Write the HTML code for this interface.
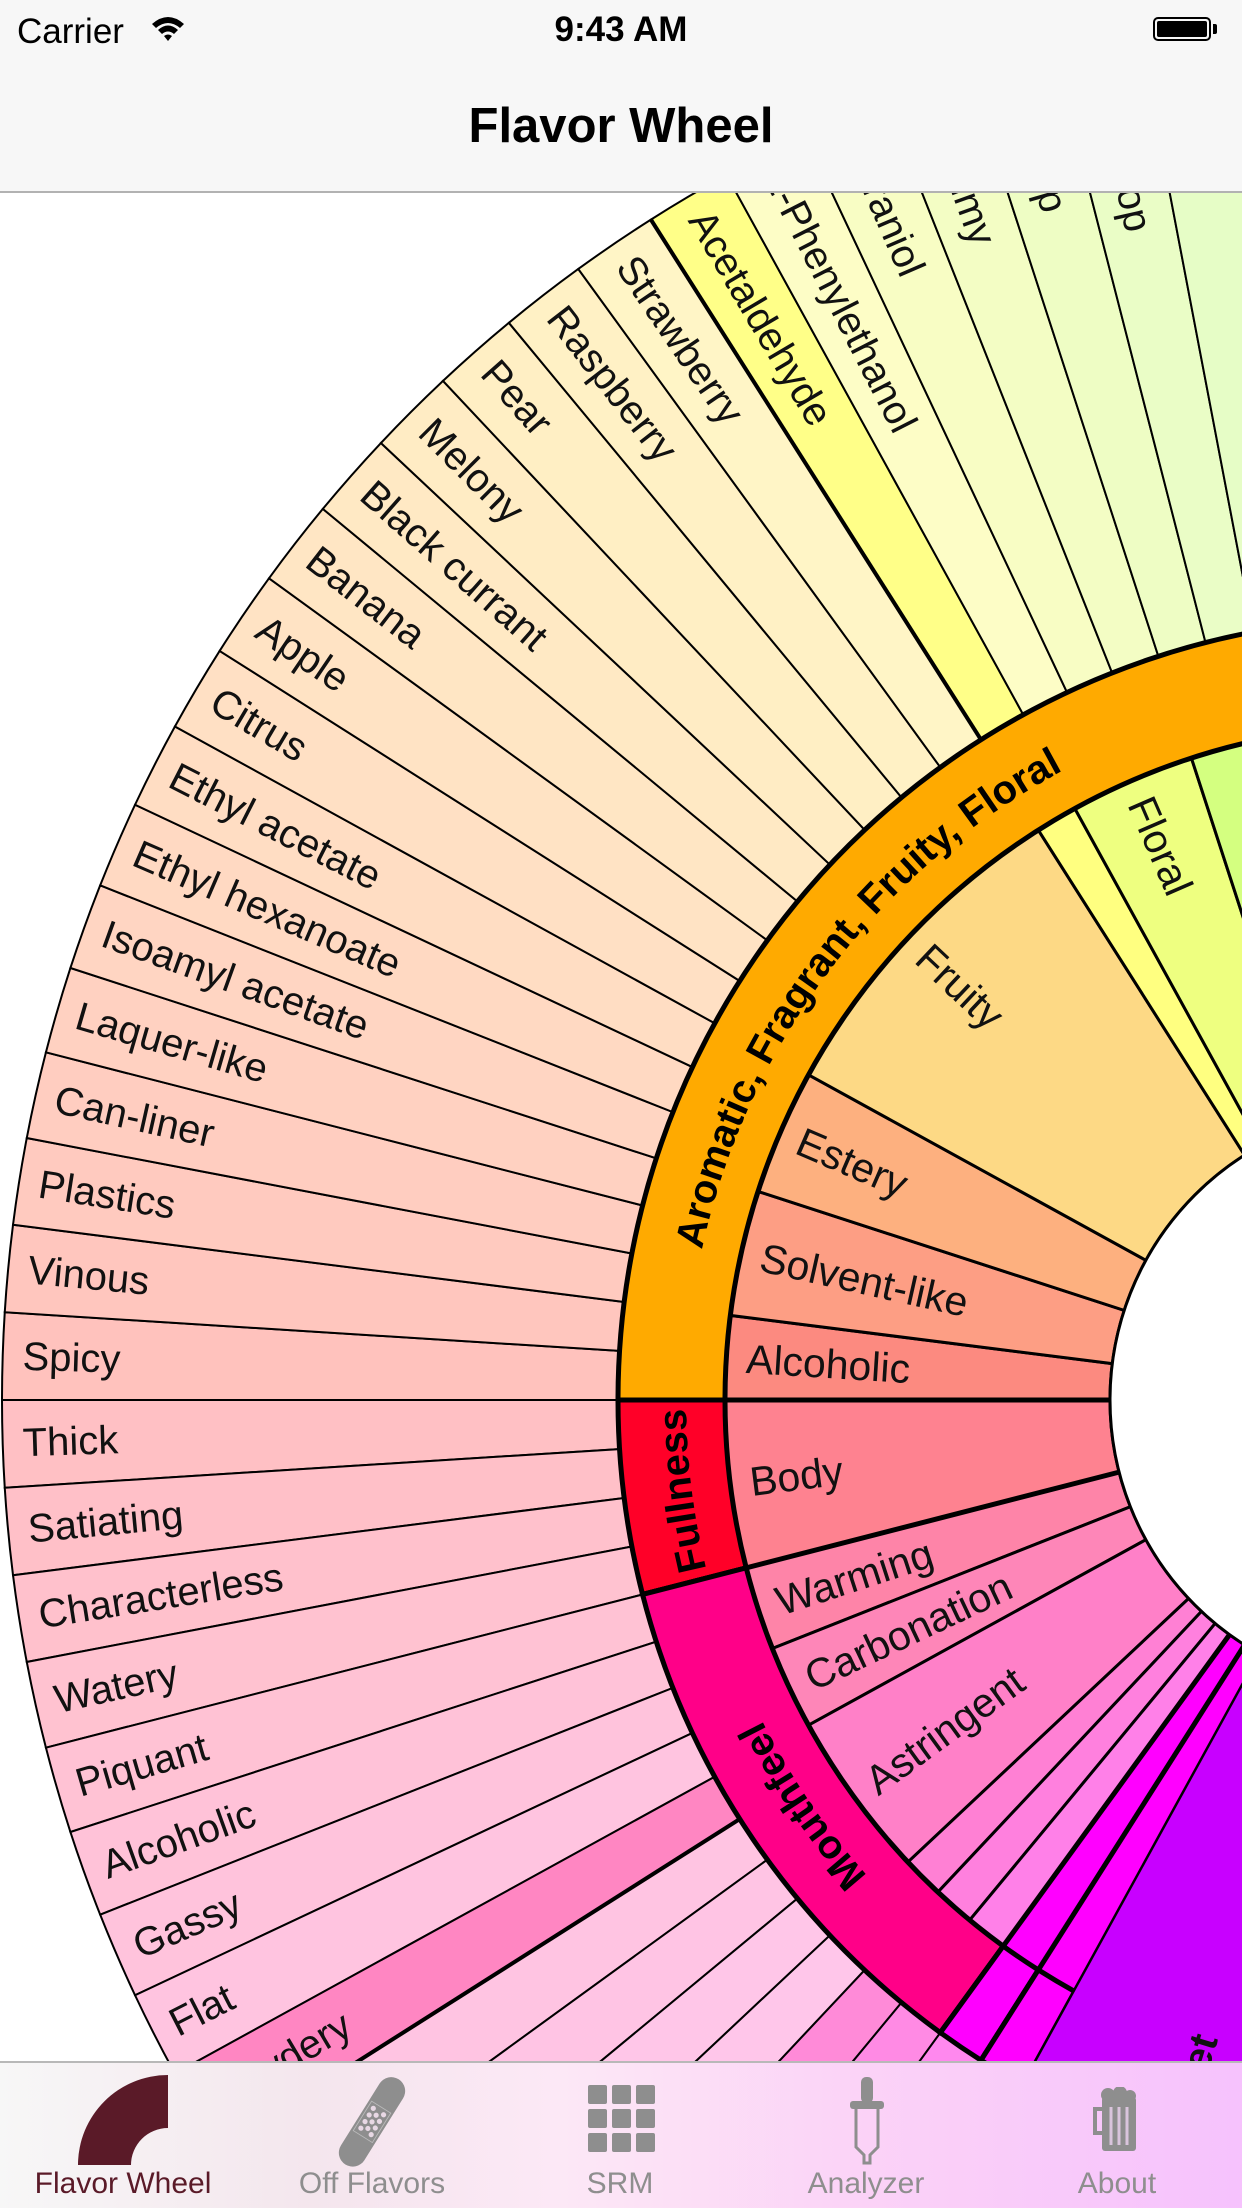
<!DOCTYPE html>
<html><head><meta charset="utf-8">
<style>
html,body{margin:0;padding:0;width:1242px;height:2208px;overflow:hidden;background:#fff;font-family:"Liberation Sans",sans-serif;}
*{box-sizing:border-box;}
#wheel{position:absolute;left:0;top:0;overflow:hidden;}
#nav{position:absolute;left:0;top:0;width:1242px;height:193px;background:#f7f7f7;border-bottom:2px solid #b2b2b2;}
#tab{position:absolute;left:0;top:2061px;width:1242px;height:147px;border-top:2px solid #b8b8b8;overflow:hidden;
 background:linear-gradient(90deg,#f7f7f7 0%,#f4e6ed 25%,#fce8f6 45%,#fbd2f7 70%,#f6c2fd 100%);}
.lbl{position:absolute;top:104px;font-size:30px;color:#8e8e8e;transform:translateX(-50%);white-space:nowrap;}
</style></head><body>
<svg id="wheel" width="1242" height="2208" viewBox="0 0 1242 2208" xmlns="http://www.w3.org/2000/svg"></svg>

<div id="nav">
 <div style="position:absolute;left:17px;top:12px;font-size:35px;color:#000;">Carrier</div>
 <svg style="position:absolute;left:150px;top:14px" width="36" height="30" viewBox="0 0 36 30">
  <path d="M2 10 Q18 -4 34 10 L30 14 Q18 4 6 14Z" fill="#000"/><path d="M8 16 Q18 7 28 16 L24 20 Q18 15 12 20Z" fill="#000"/><path d="M14 22 Q18 19 22 22 L18 27Z" fill="#000"/></svg>
 <div style="position:absolute;left:0;width:1242px;text-align:center;top:10px;font-size:35px;font-weight:bold;">9:43 AM</div>
 <div style="position:absolute;left:1153px;top:17px;width:58px;height:24px;border:2px solid #000;border-radius:5px;padding:2px;"><div style="width:100%;height:100%;background:#000;border-radius:2px"></div></div>
 <div style="position:absolute;left:1213px;top:24px;width:4px;height:10px;background:#000;border-radius:0 2px 2px 0"></div>
 <div style="position:absolute;left:0;width:1242px;text-align:center;top:98px;font-size:49px;font-weight:bold;">Flavor Wheel</div>
</div>

<div id="tab">
 <div style="position:absolute;left:0;top:0;width:248px;height:147px;">
  <svg style="position:absolute;left:76px;top:10px" width="94" height="94" viewBox="0 0 94 94"><path d="M92 2 A90 90 0 0 0 2 92 L55 92 A37 37 0 0 1 92 55 Z" fill="#5a1a28"/></svg>
  <div class="lbl" style="left:123px;color:#5a1a28">Flavor Wheel</div>
 </div>
 <div style="position:absolute;left:248px;top:0;width:248px;height:147px;">
  <svg style="position:absolute;left:72px;top:10px" width="104" height="96" viewBox="0 0 120 110">
   <g transform="rotate(-58 60 56)"><rect x="2" y="40" width="116" height="32" rx="16" fill="#8e8e8e"/><rect x="40" y="43" width="40" height="26" fill="#8e8e8e" stroke="#bbb" stroke-width="1"/>
   <g fill="#e8d8e4"><circle cx="47" cy="49" r="3"/><circle cx="56" cy="49" r="3"/><circle cx="65" cy="49" r="3"/><circle cx="74" cy="49" r="3"/><circle cx="47" cy="63" r="3"/><circle cx="56" cy="63" r="3"/><circle cx="65" cy="63" r="3"/><circle cx="74" cy="63" r="3"/><circle cx="51" cy="56" r="3"/><circle cx="60" cy="56" r="3"/><circle cx="69" cy="56" r="3"/></g></g></svg>
  <div class="lbl" style="left:124px">Off Flavors</div>
 </div>
 <div style="position:absolute;left:496px;top:0;width:248px;height:147px;">
  <svg style="position:absolute;left:92px;top:22px" width="68" height="68" viewBox="0 0 68 68"><g fill="#8e8e8e">
   <rect x="0" y="0" width="19" height="19" rx="2"/><rect x="24" y="0" width="19" height="19" rx="2"/><rect x="48" y="0" width="19" height="19" rx="2"/>
   <rect x="0" y="24" width="19" height="19" rx="2"/><rect x="24" y="24" width="19" height="19" rx="2"/><rect x="48" y="24" width="19" height="19" rx="2"/>
   <rect x="0" y="48" width="19" height="19" rx="2"/><rect x="24" y="48" width="19" height="19" rx="2"/><rect x="48" y="48" width="19" height="19" rx="2"/></g></svg>
  <div class="lbl" style="left:124px">SRM</div>
 </div>
 <div style="position:absolute;left:744px;top:0;width:248px;height:147px;">
  <svg style="position:absolute;left:104px;top:14px" width="40" height="88" viewBox="0 0 40 88">
   <rect x="13" y="0" width="12" height="26" rx="5" fill="#8e8e8e"/><rect x="2" y="24" width="34" height="8" rx="3" fill="#8e8e8e"/>
   <path d="M8 32 L8 70 L16 78 L16 86 L22 86 L22 78 L30 70 L30 32" fill="none" stroke="#8e8e8e" stroke-width="3"/></svg>
  <div class="lbl" style="left:122px">Analyzer</div>
 </div>
 <div style="position:absolute;left:992px;top:0;width:250px;height:147px;">
  <svg style="position:absolute;left:100px;top:24px" width="52" height="66" viewBox="0 0 52 66">
   <circle cx="16" cy="8" r="7" fill="#8e8e8e"/><circle cx="28" cy="6" r="7" fill="#8e8e8e"/><circle cx="38" cy="9" r="6" fill="#8e8e8e"/>
   <rect x="10" y="10" width="34" height="54" rx="3" fill="#8e8e8e"/><path d="M10 22 L3 22 L3 46 L10 46" fill="none" stroke="#8e8e8e" stroke-width="4"/>
   <g stroke="#d9c4dc" stroke-width="3"><line x1="19" y1="20" x2="19" y2="58"/><line x1="27" y1="20" x2="27" y2="58"/><line x1="35" y1="20" x2="35" y2="58"/></g></svg>
  <div class="lbl" style="left:125px">About</div>
 </div>
</div>

<script>
// ---- data ----
const upperLabels = ["Spicy","Vinous","Plastics","Can-liner","Laquer-like","Isoamyl acetate","Ethyl hexanoate","Ethyl acetate","Citrus","Apple","Banana","Black currant","Melony","Pear","Raspberry","Strawberry","Acetaldehyde","2-Phenylethanol","Geraniol","Perfumy","Dry hop","Kettle hop","Grassy","Herbal","Resinous"];
const upperColors = ["#ffc2bd","#ffc6be","#ffcabf","#ffcdc0","#ffd1c1","#ffd5c2","#ffd9c2","#ffddc3","#ffe0c4","#ffe3c4","#ffe6c4","#ffe9c4","#ffecc4","#ffefc4","#fff1c5","#fff5c6","#ffff88","#fdfdc6","#f8fdc4","#f3fdc4","#eefdc4","#eafdc6","#e6fdc6","#e2fdc8","#defdca"];
const lowerLabels = ["Thick","Satiating","Characterless","Watery","Piquant","Alcoholic","Gassy","Flat","Powdery","","","","","","","","","","",""];
const lowerColors = ["#ffc0c4","#ffc0c8","#ffc1cc","#ffc2d0","#ffc2d4","#ffc2d8","#ffc3dc","#ffc4e0","#ff86c2","#ffc4e2","#ffc4e4","#ffc6e8","#ffc6ea","#ff8ad8","#ff8ae4","#ff88ee","#ff00ff","#ff00ff","#c800ff","#c800ff"];
// thick dividers in outer ring (segment units)
const outerThick = [16,-9];
// middle ring groups in segment units (negative = below horizontal)
const midStart = [0,2,5,8,16,17,20,-4,-6,-8,-12,-13,-14,-15,-16,-17,-24];
const midEnd   = [2,5,8,16,17,20,26,0,-4,-6,-8,-12,-13,-14,-15,-16,-17];
const midLabels = ["Alcoholic","Solvent-like","Estery","Fruity","","Floral","","Body","Warming","Carbonation","Astringent","","","","","",""];
const midColors = ["#fc8a80","#fd9e84","#fdb07f","#fdd985","#ffff80","#eeff80","#d4ff80","#fe8290","#fe84a8","#fe86b8","#ff80c8","#ff80d4","#ff80de","#ff80e8","#ff00ff","#ff00ff","#c800ff"];
// category ring
const catStart = [0,-4,-15,-16,-17,-24];
const catEnd   = [26,0,-4,-15,-16,-17];
const catLabels = ["Aromatic, Fragrant, Fruity, Floral","Fullness","Mouthfeel","","","Sweet"];
const catLabelMid = [37,-7.2,-34.2,0,0,0];
const catColors = ["#ffaa00","#ff0028","#ff0088","#ff00ff","#ff00ff","#c800ff"];

// ---- geometry ----
const CX=1400, CY=1400, SEG=3.6;
const R_HOLE=290, R_MID=675, R_CAT=782, R_OUT=1398;
const NS="http://www.w3.org/2000/svg";
const svg=document.getElementById('wheel');
function P(r,t){const a=t*Math.PI/180;return [CX-r*Math.cos(a),CY-r*Math.sin(a)];}
function sector(r1,r2,t1,t2){
  const a=P(r1,t1),b=P(r2,t1),c=P(r2,t2),d=P(r1,t2);const lg=(t2-t1)>180?1:0;
  return `M${a[0]},${a[1]} L${b[0]},${b[1]} A${r2},${r2} 0 ${lg} 1 ${c[0]},${c[1]} L${d[0]},${d[1]} A${r1},${r1} 0 ${lg} 0 ${a[0]},${a[1]} Z`;
}
function mk(tag,attrs,parent){const e=document.createElementNS(NS,tag);for(const k in attrs)e.setAttribute(k,attrs[k]);(parent||svg).appendChild(e);return e;}
function radialText(str,r,t,size,weight,name){
  const p=P(r,t);
  const e=mk('text',{x:p[0],y:p[1],transform:`rotate(${t} ${p[0]} ${p[1]})`,'font-size':size,'font-weight':weight,'dominant-baseline':'central','font-family':'Liberation Sans, sans-serif',fill:'#111'});
  e.textContent=str;
  
  
}
function line(r1,r2,t,w,name){
  const a=P(r1,t),b=P(r2,t);
  const e=mk('line',{x1:a[0],y1:a[1],x2:b[0],y2:b[1],stroke:'#000','stroke-width':w});
  
  
}

// outer ring
upperLabels.forEach((lab,i)=>{
  const t1=i*SEG,t2=(i+1)*SEG;
  const e=mk('path',{d:sector(R_CAT,R_OUT,t1,t2),fill:upperColors[i],stroke:'#000','stroke-width':2});
  
  
});
lowerLabels.forEach((lab,i)=>{
  const t1=-(i+1)*SEG,t2=-i*SEG;
  const e=mk('path',{d:sector(R_CAT,R_OUT,t1,t2),fill:lowerColors[i],stroke:'#000','stroke-width':2});
  
  
});
outerThick.forEach(s=>line(R_CAT,R_OUT,s*SEG,4,'outer-group-divider'));
// middle ring
midStart.forEach((s,i)=>{
  const e=mk('path',{d:sector(R_HOLE,R_MID,s*SEG,midEnd[i]*SEG),fill:midColors[i],stroke:'#000','stroke-width':3});
  
  
});
// category ring
catStart.forEach((s,i)=>{
  const last = (i===catStart.length-1);
  const e=mk('path',{d:sector(last?R_HOLE+2:R_MID,last?R_OUT:R_CAT,s*SEG,catEnd[i]*SEG),fill:catColors[i],stroke:last?'none':'#000','stroke-width':5});
  
  
  line(R_HOLE,last?R_OUT:R_CAT,s*SEG,5,'category-divider');
});
// circles
const c1=mk('circle',{cx:CX,cy:CY,r:R_HOLE,fill:'#fff',stroke:'#000','stroke-width':3});


// labels
upperLabels.forEach((lab,i)=>{ if(lab) radialText(lab,R_OUT-20,(i+0.5)*SEG,40,'normal','outer-label'); });
lowerLabels.forEach((lab,i)=>{ if(lab) radialText(lab,R_OUT-20,-(i+0.5)*SEG,40,'normal','outer-label'); });
midLabels.forEach((lab,i)=>{ if(lab) radialText(lab,R_MID-20,(midStart[i]+midEnd[i])/2*SEG,41,'normal','middle-label'); });
const defs=mk('defs',{});
catLabels.forEach((lab,i)=>{
  if(!lab || i===catLabels.length-1) return;
  const m=catLabelMid[i], rb=714, span=90;
  const a=P(rb,m-span/2), b=P(rb,m+span/2);
  mk('path',{id:'cp'+i,d:`M${a[0]},${a[1]} A${rb},${rb} 0 0 1 ${b[0]},${b[1]}`},defs);
  const t=mk('text',{'font-size':40,'font-weight':'bold','font-family':'Liberation Sans, sans-serif',fill:'#000','text-anchor':'middle'});
  
  
  const tp=mk('textPath',{href:'#cp'+i,startOffset:'50%'},t);
  tp.textContent=lab;
});
radialText(catLabels[catLabels.length-1],780,-73,40,'bold','sweet-category-label');
</script>
</body></html>
